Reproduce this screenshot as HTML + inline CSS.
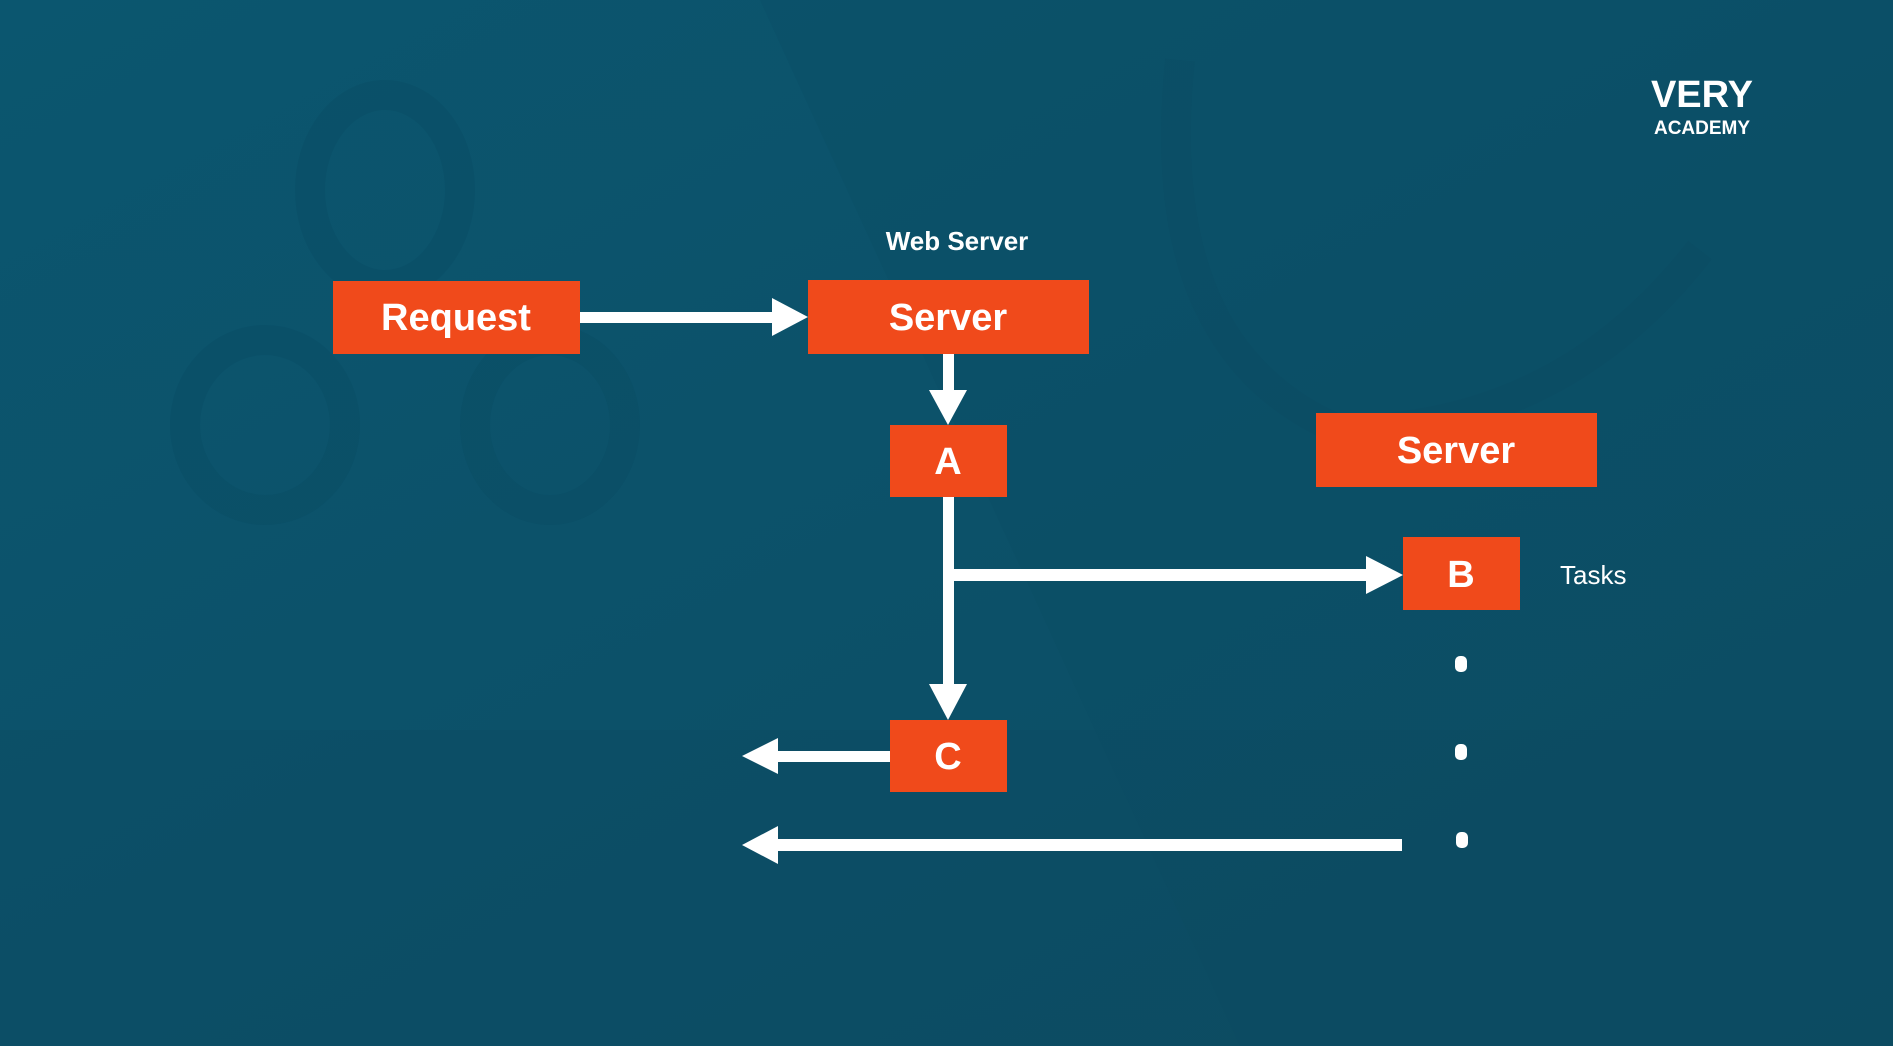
<!DOCTYPE html>
<html><head><meta charset="utf-8"><style>
html,body{margin:0;padding:0;width:1893px;height:1046px;overflow:hidden;background:#0b5068}
svg{display:block}
text{font-family:"Liberation Sans",sans-serif;font-weight:bold;fill:#fff}
</style></head><body>
<svg width="1893" height="1046" viewBox="0 0 1893 1046" xmlns="http://www.w3.org/2000/svg">
<defs>
<linearGradient id="bg" x1="0" y1="0" x2="1" y2="1">
<stop offset="0" stop-color="#0b566f"/><stop offset="0.5" stop-color="#0c5169"/><stop offset="1" stop-color="#0d4c62"/>
</linearGradient>
</defs>
<rect width="1893" height="1046" fill="url(#bg)"/>
<g fill="none" stroke="#0a4a60" stroke-width="30" opacity="0.3">
<ellipse cx="385" cy="190" rx="75" ry="95"/>
<ellipse cx="265" cy="425" rx="80" ry="85"/>
<ellipse cx="550" cy="425" rx="75" ry="85"/>
<path d="M1180 60 Q1150 350 1340 430 Q1560 430 1700 250"/>
</g>
<polygon points="760,0 1893,0 1893,1046 1240,1046" fill="#0b4d65" opacity="0.35"/>
<rect x="0" y="730" width="1893" height="316" fill="#0e4a5f" opacity="0.3"/>

<g fill="#f04a1b">
<rect x="333" y="281" width="247" height="73"/>
<rect x="808" y="280" width="281" height="74"/>
<rect x="890" y="425" width="117" height="72"/>
<rect x="1316" y="413" width="281" height="74"/>
<rect x="1403" y="537" width="117" height="73"/>
<rect x="890" y="720" width="117" height="72"/>
</g>
<g fill="#fff">
<rect x="580" y="312" width="195" height="11"/>
<polygon points="772,298 808,317 772,336"/>
<rect x="943" y="354" width="11" height="40"/>
<polygon points="929,390 948,425 967,390"/>
<rect x="943" y="497" width="11" height="190"/>
<polygon points="929,684 948,720 967,684"/>
<rect x="948" y="569" width="420" height="12"/>
<polygon points="1366,556 1403,575 1366,594"/>
<rect x="776" y="751" width="114" height="11"/>
<polygon points="742,756 778,738 778,774"/>
<rect x="776" y="839" width="626" height="12"/>
<polygon points="742,845 778,826 778,864"/>
<rect x="1455" y="656" width="12" height="16" rx="5"/>
<rect x="1455" y="744" width="12" height="16" rx="5"/>
<rect x="1456" y="832" width="12" height="16" rx="5"/>
</g>
<g text-anchor="middle">
<text x="456" y="330" font-size="38">Request</text>
<text x="948" y="330" font-size="38">Server</text>
<text x="948" y="474" font-size="38">A</text>
<text x="1456" y="463" font-size="38">Server</text>
<text x="1461" y="587" font-size="38">B</text>
<text x="948" y="769" font-size="38">C</text>
<text x="957" y="250" font-size="26">Web Server</text>
<text x="1702" y="107" font-size="38">VERY</text>
<text x="1702" y="134" font-size="19">ACADEMY</text>
</g>
<text x="1560" y="584" font-size="26" style="font-weight:normal">Tasks</text>
</svg>
</body></html>
